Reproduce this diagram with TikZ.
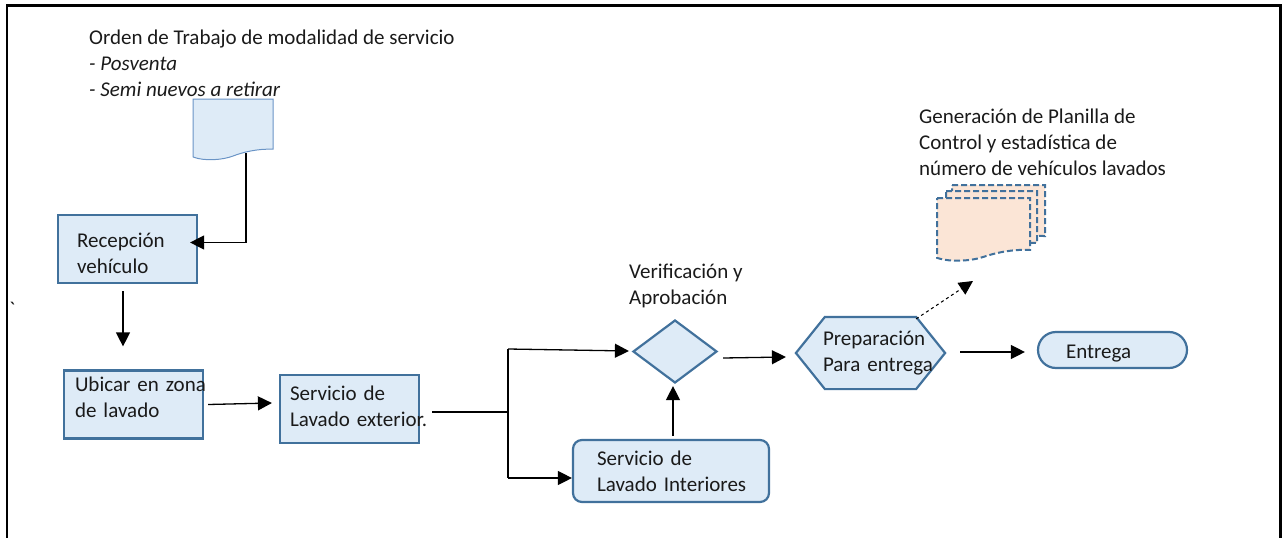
\documentclass[tikz,border=0pt]{standalone}
\usepackage{fontspec}
\setmainfont{Carlito}
\usetikzlibrary{arrows.meta,shapes.geometric,backgrounds}
\definecolor{boxfill}{HTML}{DEEBF7}
\definecolor{boxline}{HTML}{41719C}
\definecolor{docline}{HTML}{6A94C6}
\definecolor{mdfill}{HTML}{FBE5D6}
\definecolor{txt}{HTML}{1A1A1A}
% document shape: x0, y0 (top), width, depth to lowest point of wave, style
\newcommand\mydoc[5]{%
  \draw[#5] (#1,#2) -- ({#1+#3},#2) -- ({#1+#3},{#2+0.81*#4})
    .. controls ({#1+0.8*#3},{#2+0.8*#4}) and ({#1+0.62*#3},{#2+0.86*#4}) .. ({#1+0.5*#3},{#2+0.92*#4})
    .. controls ({#1+0.38*#3},{#2+0.98*#4}) and ({#1+0.15*#3},{#2+1.01*#4}) .. (#1,{#2+0.935*#4}) -- cycle;}
\newcommand\tp[1]{\rule{0pt}{#1pt}}
\newcommand\bt[1]{\rule[-#1pt]{0pt}{#1pt}}
\begin{document}
\begin{tikzpicture}[x=1pt,y=-1pt,
  font=\fontsize{21}{26}\selectfont, text=txt,
  box/.style={draw=boxline, line width=2.2pt, fill=boxfill, rectangle,
    inner ysep=0pt, align=left, minimum height=68pt, minimum width=139pt},
  arr/.style={line width=1.3pt, -{Triangle[length=14pt,width=14pt]}},
  lbl/.style={anchor=north west, inner sep=0pt, align=left},
  mdoc/.style={draw=boxline, line width=2pt, dash pattern=on 6pt off 3pt, fill=mdfill},
]
\useasboundingbox (0,0) rectangle (1283,538);
% frame
\draw[line width=2.2pt] (7,538) -- (7,5.5) -- (1280.5,5.5) -- (1280.5,538);

% labels
\node[lbl] (orden) at (89,27) {\tp{17}Orden de Trabajo de modalidad de servicio\\
  \textit{- Posventa}\\ \textit{- Semi nuevos a retirar}};
\node[lbl] (verif) at (629,261) {\tp{17}Verificación y\\ Aprobación};
\node[lbl] (gener) at (919,106) {\tp{17}Generación de Planilla de\\ Control y estadística de\\ número de vehículos lavados};
\node[anchor=base west, inner sep=0pt] (tick) at (9,316) {\textasciigrave};

% input document
\mydoc{193}{99}{80}{62}{draw=docline, line width=1pt, fill=boxfill}
\coordinate (docb) at (246,153);

% multi document
\mydoc{952}{185}{93}{63}{mdoc}
\mydoc{946}{191}{91}{64}{mdoc}
\mydoc{937}{198}{93}{64}{mdoc}
\coordinate (mdt) at (973,281);

% process boxes
\node[box, text width=101pt, inner xsep=19pt] (rec) at (127.5,249)
  {\mbox{\tp{27}Recepción}\\ \mbox{vehículo\bt{5}}};
\node[box, text width=117pt, inner xsep=11pt] (ubi) at (133.5,404.5)
  {\mbox{\tp{16}Ubicar en zona}\\ \mbox{de lavado\bt{17}}};
\node[box, text width=119pt, inner xsep=10pt] (ext) at (349.5,409)
  {\mbox{\tp{18}Servicio de}\\ \mbox{Lavado exterior.\bt{9}}};
\node[box, rounded corners=9pt, minimum width=196pt, minimum height=62pt,
  text width=148pt, inner xsep=24pt] (intr) at (671,471)
  {\mbox{\tp{19}Servicio de}\\ \mbox{Lavado Interiores\bt{5}}};
\node[draw=boxline, line width=2.2pt, fill=boxfill, diamond,
  minimum width=84pt, minimum height=63pt, inner sep=0pt] (dia) at (675,351.5) {};
\node[box, draw=none, fill=none, minimum width=147pt, minimum height=70pt,
  text width=95pt, inner xsep=26pt] (prep) at (870.5,353)
  {\mbox{\tp{17}Preparación}\\ \mbox{Para entrega\bt{7}}};
\begin{scope}[on background layer]
\draw[draw=boxline, line width=2.2pt, fill=boxfill] (prep.west)
  -- ([xshift=29pt]prep.north west) -- ([xshift=-29pt]prep.north east)
  -- (prep.east) -- ([xshift=-29pt]prep.south east)
  -- ([xshift=29pt]prep.south west) -- cycle;
\end{scope}
\node[box, rounded corners=18pt, minimum width=149pt, minimum height=36pt,
  text width=93pt, inner xsep=28pt] (ent) at (1112.5,350)
  {\mbox{\tp{21}Entrega\bt{5}}};

% connectors
\draw[arr] (docb) |- ([xshift=-8pt,yshift=6.5pt]rec.east);
\draw[arr] ([xshift=-4.5pt,yshift=-7pt]rec.south) -- ([xshift=-10.5pt,yshift=23pt]ubi.north);
\draw[arr] ([xshift=4pt]ubi.east) -- ([xshift=-7pt,yshift=6pt]ext.west);
\coordinate (ft) at (508,349);
\coordinate (fm) at (508,412);
\coordinate (fb) at (508,478);
\draw[line width=1.3pt] ([xshift=12pt,yshift=-3pt]ext.east) -- (fm);
\draw[line width=1.3pt] (ft) -- (fb);
\draw[arr] (ft) -- ([xshift=-3pt,yshift=0.5pt]dia.west);
\draw[arr] (fb) -- ([yshift=-7pt]intr.west);
\draw[arr] ([xshift=2pt,yshift=3pt]intr.north) -- ([xshift=-2pt,yshift=-2pt]dia.south);
\draw[arr] ([xshift=5pt,yshift=-6.5pt]dia.east) -- ([xshift=-10pt,yshift=-4pt]prep.west);
\draw[arr] ([xshift=15pt,yshift=1pt]prep.east) -- ([xshift=-12pt,yshift=-2pt]ent.west);
\draw[line width=1pt, dashed, -{Triangle[length=14pt,width=14pt]}]
  ([xshift=-29pt,yshift=-2pt]prep.north east) -- (mdt);
\end{tikzpicture}
\end{document}
